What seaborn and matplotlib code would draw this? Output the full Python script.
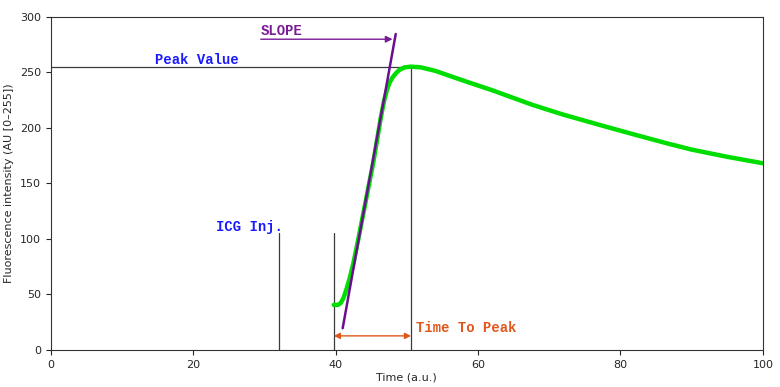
import numpy as np
import pandas as pd
import matplotlib
matplotlib.use('Agg')
import matplotlib.pyplot as plt
import seaborn as sns

# curve
aTime = [39.75, 40.3, 40.7, 41.1, 41.5, 42.0, 42.5, 43.2, 43.9, 44.6, 45.3, 45.9, 46.4,
         46.8, 47.2, 47.6, 48.0, 48.5, 49.0, 49.7, 50.6, 52.0, 54.0, 56.0, 58.4, 62.0, 65.0,
         67.7, 72.0, 77.1, 82.0, 86.5, 90.0, 95.0, 100.0]
aIntensity = [40.5, 40.5, 42.0, 46.5, 54.0, 65.0, 78.0, 100.0, 123.0, 146.0, 169.0, 192.0, 211.0,
              224.0, 234.0, 241.0, 245.5, 249.5, 252.5, 254.6, 255.3, 254.6, 251.5, 247.0, 241.7,
              234.0, 227.0, 220.7, 212.0, 202.7, 194.0, 186.2, 180.5, 174.0, 168.2]

# markers
dInjection = 32.0
dStart = 39.75
dPeak_time = 50.6
dPeak_value = 255.0
dMarker_height = 105.0
aSlope_x = [41.0, 48.45]
aSlope_y = [19.5, 284.7]

sns.set_style('ticks')

df = pd.DataFrame({'Time': aTime, 'Intensity': aIntensity})

fig, ax = plt.subplots(1, 1, figsize=(7.8, 3.87), dpi=100)
fig.subplots_adjust(left=0.065, right=0.978, bottom=0.096, top=0.956)

sLine = '#3a3a3a'
ax.plot([0, dPeak_time], [dPeak_value, dPeak_value], color=sLine, lw=0.9)
ax.plot([dPeak_time, dPeak_time], [0, dPeak_value], color=sLine, lw=0.9)
ax.plot([dInjection, dInjection], [0, dMarker_height], color=sLine, lw=0.9)
ax.plot([dStart, dStart], [0, dMarker_height], color=sLine, lw=0.9)

sns.lineplot(data=df, x='Time', y='Intensity', sort=False, color='#00dd00', lw=3.2, ax=ax)
ax.plot(aSlope_x, aSlope_y, color='#6a0d91', lw=1.8)

sOrange = '#e0561b'
sPurple = '#7a1a96'
sBlue = '#1a1aff'
ax.annotate('', xy=(dPeak_time, 12.6), xytext=(dStart, 12.6),
            arrowprops=dict(arrowstyle='<|-|>', color=sOrange, lw=1, mutation_scale=9, shrinkA=0, shrinkB=0))
ax.annotate('', xy=(48.0, 280), xytext=(29.5, 280),
            arrowprops=dict(arrowstyle='-|>', color=sPurple, lw=1, mutation_scale=10, shrinkA=0, shrinkB=0))

fontMono = dict(family='Liberation Mono', weight='bold', size=10)
ax.text(51.3, 19.8, 'Time To Peak', color=sOrange, va='center', ha='left', **fontMono)
ax.text(29.5, 287, 'SLOPE', color=sPurple, va='center', ha='left', **fontMono)
ax.text(14.6, 261, 'Peak Value', color=sBlue, va='center', ha='left', **fontMono)
ax.text(23.2, 111, 'ICG Inj.', color=sBlue, va='center', ha='left', **fontMono)

ax.set_xlim(0, 100)
ax.set_ylim(0, 300)
ax.set_xticks([0, 20, 40, 60, 80, 100])
ax.set_yticks([0, 50, 100, 150, 200, 250, 300])
ax.tick_params(labelsize=8, length=3.5, width=0.8)
ax.set_xlabel('Time (a.u.)', fontsize=8, labelpad=2)
ax.set_ylabel('Fluorescence intensity (AU [0\u2013255])', fontsize=8, labelpad=4)
for s in ax.spines.values():
    s.set_linewidth(0.8)
    s.set_color('#333333')

fig.savefig('out.png', dpi=100)
